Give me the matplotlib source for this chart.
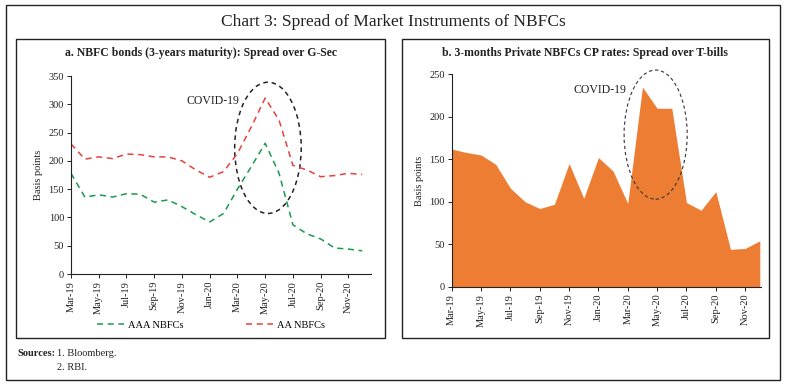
import numpy as np
import matplotlib
matplotlib.use('Agg')
import matplotlib.pyplot as plt
from matplotlib.patches import Ellipse, Rectangle

plt.rcParams['font.family'] = ['Liberation Serif', 'DejaVu Serif']

months = ['Mar-19', 'Apr-19', 'May-19', 'Jun-19', 'Jul-19', 'Aug-19', 'Sep-19',
          'Oct-19', 'Nov-19', 'Dec-19', 'Jan-20', 'Feb-20', 'Mar-20', 'Apr-20',
          'May-20', 'Jun-20', 'Jul-20', 'Aug-20', 'Sep-20', 'Oct-20', 'Nov-20',
          'Dec-20']

# panel a: spread over G-Sec (bps)
aaa_nbfc = [178, 136, 140, 136, 142, 141, 127, 131, 119, 105, 92, 107,
            150, 190, 231, 178, 87, 71, 62, 46, 44, 41]
aa_nbfc = [230, 203, 207, 204, 212, 211, 207, 207, 200, 184, 171, 181,
           213, 260, 311, 272, 192, 184, 172, 174, 178, 176]

# panel b: CP spread over T-bills (bps)
cp_spread = [162, 158, 155, 144, 116, 100, 92, 97, 145, 104, 152, 136,
             98, 235, 210, 210, 99, 90, 112, 44, 45, 54]

x = np.arange(len(months))
tick_pos = x[::2]
tick_lab = months[::2]

W, H = 788, 389
fig = plt.figure(figsize=(W / 100, H / 100), dpi=100)

def box(x0, y0, x1, y1):
    fig.patches.append(Rectangle((x0 / W, 1 - y1 / H), (x1 - x0) / W, (y1 - y0) / H,
                                 transform=fig.transFigure, fill=False,
                                 edgecolor='#222222', linewidth=1.0))

box(6, 5, 780, 380)
box(16, 39, 385, 338)
box(402, 39, 769, 338)

fig.text(393 / W, 1 - 22 / H, 'Chart 3: Spread of Market Instruments of NBFCs',
         ha='center', va='center', fontsize=12.5, color='#222222')
fig.text(201 / W, 1 - 53 / H, 'a. NBFC bonds (3-years maturity): Spread over G-Sec',
         ha='center', va='center', fontsize=8.5, fontweight='bold', color='#222222')
fig.text(585 / W, 1 - 53 / H, 'b. 3-months Private NBFCs CP rates: Spread over T-bills',
         ha='center', va='center', fontsize=8.5, fontweight='bold', color='#222222')


def style(ax):
    for s in ['top', 'right']:
        ax.spines[s].set_visible(False)
    for s in ['left', 'bottom']:
        ax.spines[s].set_linewidth(0.8)
        ax.spines[s].set_color('#222222')
    ax.tick_params(axis='both', length=3, width=0.7, labelsize=7.5, colors='#222222', pad=2)
    ax.set_xticks(tick_pos)
    ax.set_xticklabels(tick_lab, rotation=90)
    ax.set_ylabel('Basis points', fontsize=7.5, color='#222222', labelpad=4)


# panel a
ax1 = fig.add_axes([71 / W, 1 - 274 / H, 300 / W, 198 / H])
ax1.plot(x, aaa_nbfc, color='#1a9a4a', lw=1.1, linestyle=(0, (4, 3)), label='AAA NBFCs')
ax1.plot(x, aa_nbfc, color='#e8413c', lw=1.1, linestyle=(0, (4, 3)), label='AA NBFCs')
ax1.set_xlim(0, 21.63)
ax1.set_ylim(0, 350)
ax1.set_yticks(range(0, 351, 50))
style(ax1)
ax1.add_patch(Ellipse((14.2, 223), 4.8, 232, fill=False, edgecolor='#222222',
                      lw=1.1, linestyle=(0, (3, 2.5)), clip_on=False))
ax1.text(10.2, 305, 'COVID-19', ha='center', va='center', fontsize=8.5, color='#222222')
ax1.legend(loc='center', bbox_to_anchor=(0.467, -0.258), ncol=2, frameon=False,
           fontsize=7.5, handlelength=2.6, columnspacing=6.0, handletextpad=0.4)

# panel b
ax2 = fig.add_axes([451.7 / W, 1 - 286.7 / H, 309 / W, 212.4 / H])
ax2.fill_between(x, cp_spread, 0, color='#ec7d32', linewidth=0)
ax2.set_xlim(0, 21.06)
ax2.set_ylim(0, 250)
ax2.set_yticks(range(0, 251, 50))
style(ax2)
ax2.add_patch(Ellipse((13.9, 179), 4.3, 152, fill=False, edgecolor='#333333',
                      lw=0.8, linestyle=(0, (3, 2.5)), clip_on=False))
ax2.text(10.1, 232, 'COVID-19', ha='center', va='center', fontsize=8.5, color='#222222')

fig.text(17 / W, 1 - 353 / H, 'Sources:', ha='left', va='center', fontsize=7.5,
         fontweight='bold', color='#222222')
fig.text(57 / W, 1 - 353 / H, '1. Bloomberg.', ha='left', va='center', fontsize=7.5,
         color='#222222')
fig.text(57 / W, 1 - 367 / H, '2. RBI.', ha='left', va='center', fontsize=7.5,
         color='#222222')

fig.savefig('out.png', dpi=100)
